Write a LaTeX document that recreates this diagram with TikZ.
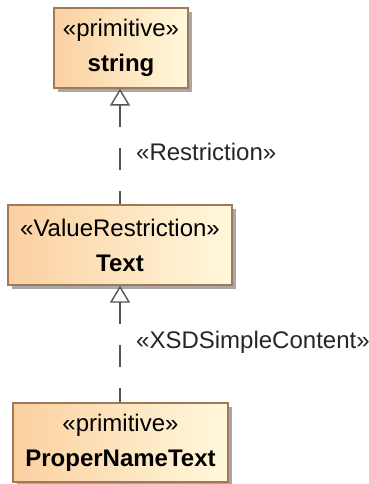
\documentclass[tikz,border=0pt]{standalone}
\usepackage{fontspec}
\setmainfont{Liberation Sans}
\usetikzlibrary{arrows.meta,shadows}
\definecolor{boxl}{HTML}{FBD0A0}
\definecolor{boxr}{HTML}{FFF8DC}
\definecolor{boxd}{HTML}{A07A58}
\definecolor{lnc}{HTML}{555555}
\definecolor{shc}{HTML}{A8A8A8}
\tikzset{
  cls/.style={draw=boxd, line width=1.3pt, left color=boxl, right color=boxr,
    align=center, inner sep=0pt, font=\fontsize{24}{35}\selectfont,
    drop shadow={shadow xshift=4pt, shadow yshift=-4pt, fill=shc, opacity=1}},
  gen/.style={draw=lnc, line width=1.4pt, dash pattern=on 22pt off 21pt,
    {Triangle[open, length=17pt, width=20pt, line width=1.4pt]}-},
  lbl/.style={anchor=west, inner sep=0pt, text=black!85, font=\fontsize{24}{28}\selectfont}
}
\begin{document}
\begin{tikzpicture}[x=1pt, y=-1pt]
\useasboundingbox (0,0) rectangle (369,484);
\node[cls, minimum width=134pt, minimum height=80pt] (b1) at (121,48)
  {«primitive»\\\textbf{string}};
\node[cls, minimum width=224pt, minimum height=80pt] (b2) at (120,245)
  {«ValueRestriction»\\\textbf{Text}};
\node[cls, minimum width=215pt, minimum height=79pt] (b3) at (120.5,442.5)
  {«primitive»\\\textbf{ProperNameText}};
\draw[gen] (b1.south -| 120,0) -- (b2.north -| 120,0);
\draw[gen] (b2.south -| 120,0) -- (b3.north -| 120,0);
\node[lbl] (l1) at (136,152) {«Restriction»};
\node[lbl] (l2) at (136,342) {«XSDSimpleContent»};
\end{tikzpicture}
\end{document}
